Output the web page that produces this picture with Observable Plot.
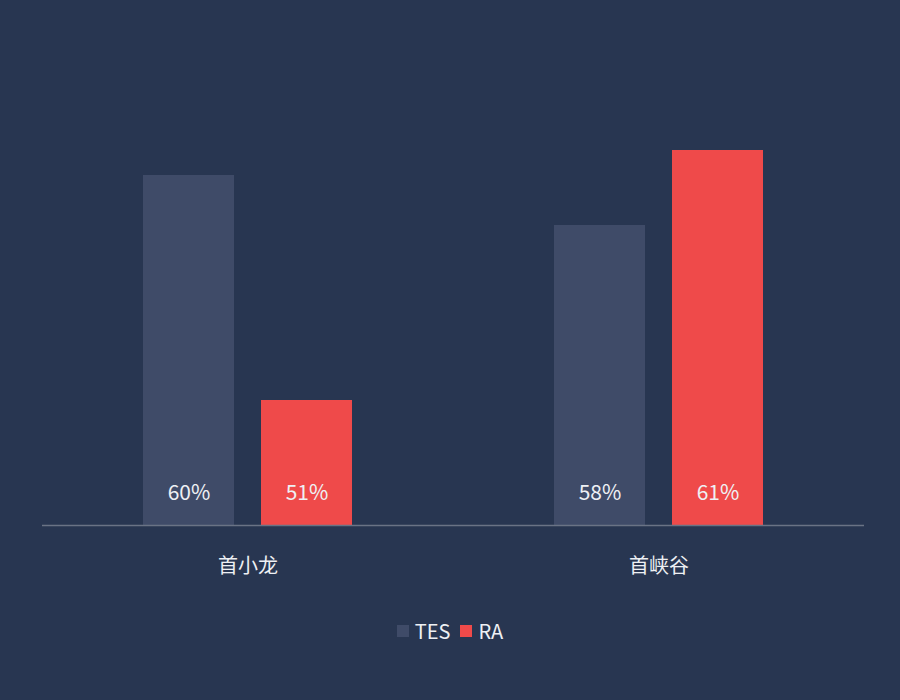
<!DOCTYPE html>
<html>
<head>
<meta charset="utf-8">
<script src="https://cdn.jsdelivr.net/npm/d3@7"></script>
<script src="https://cdn.jsdelivr.net/npm/@observablehq/plot@0.6"></script>
<style>
  html, body { margin: 0; padding: 0; background: #283651; }
  #wrap { width: 900px; height: 700px; background: #283651; position: relative; font-family: "Noto Sans CJK SC", "Noto Sans", sans-serif; }
  #legend { position: absolute; top: 616px; left: 0; width: 900px; display: flex; justify-content: center; gap: 10px; color: #eef0f4; font-size: 20px; }
  .item { display: flex; align-items: center; gap: 6px; }
  .sw { width: 12px; height: 12px; display: inline-block; }
</style>
</head>
<body>
<div id="wrap"><div id="chart"></div><div id="legend"></div></div>
<script>
const groups = ["首小龙", "首峡谷"];
const series = ["TES", "RA"];
const tesValues = [60, 58];
const raValues = [51, 61];
const colors = ["#3f4b68", "#ef4a4a"];

const data = [];
groups.forEach((g, i) => {
  data.push({group: g, team: "TES", value: tesValues[i]});
  data.push({group: g, team: "RA", value: raValues[i]});
});

const chart = Plot.plot({
  width: 900,
  height: 600,
  marginTop: 25,
  marginBottom: 75,
  marginLeft: 42,
  marginRight: 36,
  style: {background: "#283651", color: "#eef0f4", fontFamily: "Noto Sans CJK SC, Noto Sans, sans-serif"},
  fx: {domain: groups, padding: 0, label: null},
  x: {domain: series, paddingInner: 0.229, paddingOuter: 0.856, axis: null},
  y: {domain: [46, 66], axis: null},
  color: {domain: series, range: colors},
  marks: [
    Plot.barY(data, {fx: "group", x: "team", y1: 46, y2: "value", fill: "team"}),
    Plot.text(data, {fx: "group", x: "team", y: 46, dy: -32, text: d => d.value + "%", fill: "#eef0f4", fontSize: 21}),
    Plot.ruleY([46], {stroke: "#6a7385", strokeWidth: 1.5}),
    Plot.axisFx({anchor: "bottom", tickSize: 0, tickPadding: 33, fontSize: 20, label: null, fill: "#eef0f4"})
  ]
});
document.getElementById("chart").appendChild(chart);

const legend = document.getElementById("legend");
series.forEach((s, i) => {
  const it = document.createElement("div");
  it.className = "item";
  it.innerHTML = `<span class="sw" style="background:${colors[i]}"></span><span>${s}</span>`;
  legend.appendChild(it);
});
</script>
</body>
</html>
